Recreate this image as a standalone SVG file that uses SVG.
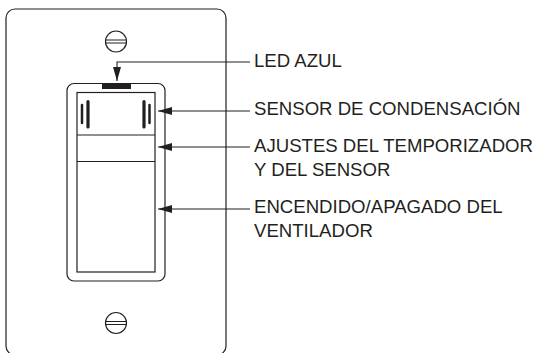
<svg xmlns="http://www.w3.org/2000/svg" width="535" height="353" viewBox="0 0 535 353">
<defs>
<marker id="a" markerUnits="userSpaceOnUse" markerWidth="14" markerHeight="8" refX="14" refY="4" orient="auto"><path d="M0 0L14 4L0 8Z" fill="#231f20"/></marker>
</defs>
<style>
.l{fill:none;stroke:#231f20;stroke-width:1.2}
.c{fill:none;stroke:#231f20;stroke-width:1.1}
.t{font:18.6px "Liberation Sans",Arial,sans-serif;fill:#231f20}
.b{stroke:#231f20;stroke-linecap:round;fill:none}
</style>
<g id="plate"><rect class="l" x="6" y="9" width="220" height="346" rx="9"/></g>
<g id="screw-top"><circle class="l" cx="116" cy="41.500" r="10.500"/><path class="l" d="M105.500 40H126.500M105.500 43H126.500"/></g>
<g id="screw-bottom"><circle class="l" cx="116" cy="323" r="10.500"/><path class="l" d="M105.500 321.500H126.500M105.500 324.500H126.500"/></g>
<g id="switch">
<rect class="l" x="67" y="83.500" width="98" height="197.500" rx="7"/>
<rect class="l" x="77" y="92.500" width="78" height="179.500"/>
<path class="l" d="M77 135H155M77 161.500H155"/>
<rect x="102" y="83.500" width="29" height="5.500" fill="#231f20"/>
<path class="b" stroke-width="2.500" d="M82 105V123M149.500 105V123"/>
<path class="b" stroke-width="3.200" d="M88 101.500V127M144 101.500V127"/>
</g>
<g id="connectors">
<path class="c" marker-end="url(#a)" d="M250 62H117V81"/>
<path class="c" marker-end="url(#a)" d="M250 111H158"/>
<path class="c" marker-end="url(#a)" d="M250 147H158"/>
<path class="c" marker-end="url(#a)" d="M250 209H158"/>
</g>
<g id="labels">
<text class="t" x="254" y="66.500">LED AZUL</text>
<text class="t" x="254" y="115">SENSOR DE CONDENSACIÓN</text>
<text class="t" x="254" y="152">AJUSTES DEL TEMPORIZADOR</text>
<text class="t" x="254" y="175.500">Y DEL SENSOR</text>
<text class="t" x="254" y="212.500">ENCENDIDO/APAGADO DEL</text>
<text class="t" x="254" y="236.500">VENTILADOR</text>
</g>
</svg>
